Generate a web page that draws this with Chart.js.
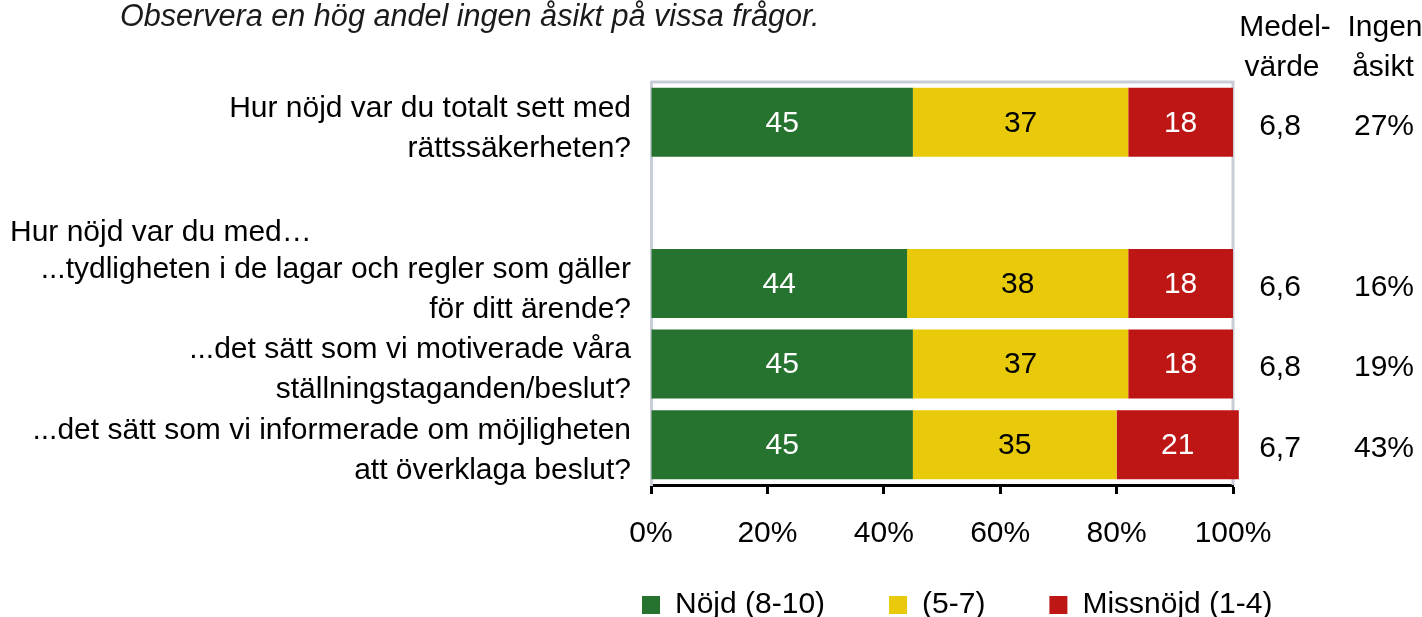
<!DOCTYPE html>
<html><head><meta charset="utf-8">
<script src="https://cdn.jsdelivr.net/npm/chart.js@4.4.1/dist/chart.umd.min.js"></script>
<style>
html,body{margin:0;padding:0;background:#fff;overflow:hidden;width:1422px;height:617px}
#wrap{position:relative;width:1422px;height:660px}
canvas{display:block}
</style>
</head><body><div id="wrap"><canvas id="c" width="1422" height="660"></canvas></div>
<script>
const categories = [
  ['Hur nöjd var du totalt sett med', 'rättssäkerheten?'],
  '',
  ['...tydligheten i de lagar och regler som gäller', 'för ditt ärende?'],
  ['...det sätt som vi motiverade våra', 'ställningstaganden/beslut?'],
  ['...det sätt som vi informerade om möjligheten', 'att överklaga beslut?']
];
const seriesNames = ['Nöjd (8-10)', '(5-7)', 'Missnöjd (1-4)'];
const satisfied    = [45, null, 44, 45, 45];
const neutral      = [37, null, 38, 37, 35];
const dissatisfied = [18, null, 18, 18, 21];
const meanValues   = [6.8, null, 6.6, 6.8, 6.7];
const noOpinion    = [27, null, 16, 19, 43];
const xTickValues  = [0, 20, 40, 60, 80, 100];
const titleText    = 'Observera en hög andel ingen åsikt på vissa frågor.';
const groupHeader  = 'Hur nöjd var du med…';
const meanHeader   = ['Medel-', 'värde'];
const noOpHeader   = ['Ingen', 'åsikt'];

const FONT = "'Liberation Sans', Arial, sans-serif";
const colors = ['#26732F', '#E9CA0B', '#BE1515'];
const labelColors = ['#ffffff', '#000000', '#ffffff'];

Chart.defaults.font.family = FONT;
Chart.defaults.font.size = 30;
Chart.defaults.color = '#000';

const framePlugin = {
  id: 'frame',
  beforeDatasetsDraw(chart) {
    const {ctx, chartArea: a} = chart;
    ctx.save();
    ctx.strokeStyle = '#C9CDD8';
    ctx.lineWidth = 3;
    ctx.beginPath();
    ctx.moveTo(a.left, a.top);
    ctx.lineTo(a.right, a.top);
    ctx.lineTo(a.right, a.bottom);
    ctx.stroke();
    ctx.restore();
  }
};

const barLabelPlugin = {
  id: 'barLabels',
  afterDatasetsDraw(chart) {
    const {ctx} = chart;
    ctx.save();
    ctx.font = '30px ' + FONT;
    ctx.textAlign = 'center';
    ctx.textBaseline = 'middle';
    chart.data.datasets.forEach((ds, di) => {
      const meta = chart.getDatasetMeta(di);
      meta.data.forEach((el, i) => {
        const v = ds.data[i];
        if (v == null) return;
        const p = el.getCenterPoint();
        ctx.fillStyle = labelColors[di];
        ctx.fillText(String(v), p.x, p.y + 1);
      });
    });
    ctx.restore();
  }
};

const textPlugin = {
  id: 'extraText',
  afterDraw(chart) {
    const {ctx} = chart;
    const y = chart.scales.y;
    ctx.save();
    ctx.fillStyle = '#1a1a1a';
    ctx.textBaseline = 'middle';
    ctx.textAlign = 'left';
    ctx.font = 'italic 30.6px ' + FONT;
    ctx.fillText(titleText, 120, 17);
    ctx.fillStyle = '#000';
    ctx.font = '30px ' + FONT;
    ctx.fillText(groupHeader, 10, y.getPixelForValue(1) + 30);
    ctx.textAlign = 'center';
    ctx.fillText(meanHeader[0], 1285, 28);
    ctx.fillText(meanHeader[1], 1282, 68);
    ctx.fillText(noOpHeader[0], 1385, 28);
    ctx.fillText(noOpHeader[1], 1383, 68);
    meanValues.forEach((m, i) => {
      if (m == null) return;
      const py = y.getPixelForValue(i) + 4;
      ctx.fillText(m.toFixed(1).replace('.', ','), 1280, py);
      ctx.fillText(noOpinion[i] + '%', 1384, py);
    });
    ctx.restore();
  }
};

const legendShift = {
  id: 'legendShift',
  afterLayout(chart) {
    const lg = chart.legend;
    if (lg) {
      const h = lg.height;
      lg.left = 646 - 64 - 4;
      lg.right = 1422;
      lg.top = 526;
      lg.bottom = 526 + h;
    }
  }
};

new Chart(document.getElementById('c'), {
  type: 'bar',
  data: {
    labels: categories,
    datasets: seriesNames.map((name, i) => ({
      label: name,
      data: [satisfied, neutral, dissatisfied][i],
      backgroundColor: colors[i],
      borderWidth: 0,
      barPercentage: 0.856,
      categoryPercentage: 1,
      clip: false
    }))
  },
  options: {
    indexAxis: 'y',
    responsive: false,
    animation: false,
    devicePixelRatio: 1,
    layout: { padding: { top: 82, right: 189, bottom: 1, left: 0 } },
    scales: {
      x: {
        stacked: true,
        min: 0, max: 100,
        afterBuildTicks(scale) { scale.ticks = xTickValues.map(v => ({value: v})); },
        afterFit(scale) { scale.height = 70; },
        ticks: { callback: v => v + '%', padding: 22, font: {size: 30}, color: '#000', maxRotation: 0 },
        grid: { drawOnChartArea: false, drawTicks: true, tickLength: 9, tickWidth: 3, tickColor: '#000' },
        border: { color: '#000', width: 3 }
      },
      y: {
        stacked: true,
        afterFit(scale) { scale.width = 651; },
        ticks: { padding: 20, labelOffset: 6, font: {size: 30, lineHeight: 1.333}, color: '#000', autoSkip: false },
        grid: { display: false, drawTicks: false },
        border: { color: '#C9CDD8', width: 3 }
      }
    },
    plugins: {
      legend: {
        position: 'bottom',
        align: 'start',
        labels: { boxWidth: 18, boxHeight: 18, padding: 64, font: {size: 30}, color: '#000' }
      },
      tooltip: { enabled: false },
      title: { display: false }
    }
  },
  plugins: [framePlugin, barLabelPlugin, textPlugin, legendShift]
});
</script>
</body></html>
